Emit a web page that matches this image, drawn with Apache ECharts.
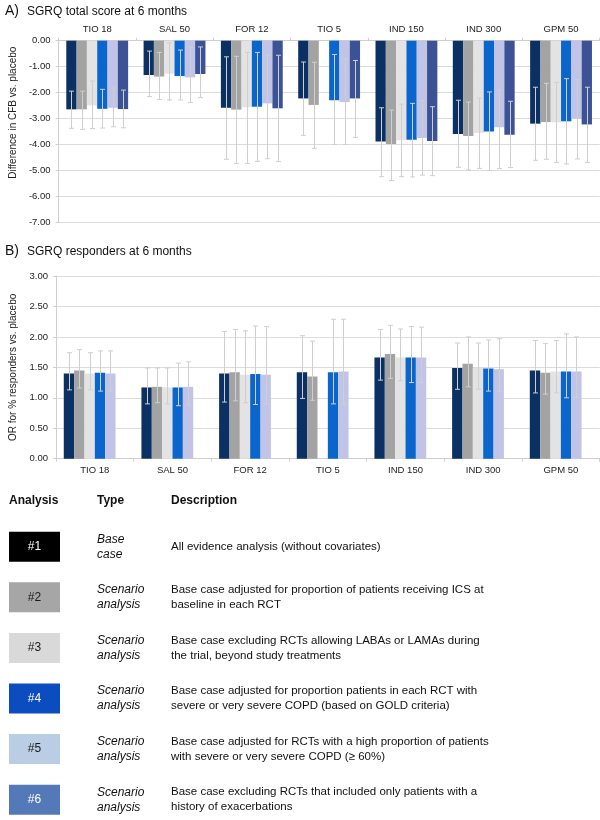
<!DOCTYPE html>
<html>
<head>
<meta charset="utf-8">
<script src="https://cdn.jsdelivr.net/npm/echarts@6/dist/echarts.min.js"></script>
<style>
html,body{margin:0;padding:0;background:#fff;}
#chart{width:600px;height:820px;}
</style>
</head>
<body>
<div id="chart"></div>
<script>
// ---------- DATA ----------
const categories = ['TIO 18', 'SAL 50', 'FOR 12', 'TIO 5', 'IND 150', 'IND 300', 'GPM 50'];
const analyses = ['#1', '#2', '#3', '#4', '#5', '#6'];
const yTicksA = [0, -1, -2, -3, -4, -5, -6, -7];
const yTicksB = [0, 0.5, 1, 1.5, 2, 2.5, 3];

// A) SGRQ total score at 6 months: difference in CFB vs placebo (mean, upper CI, lower CI)
const sgrqMean1 = [-2.64, -1.32, -2.58, -2.22, -3.88, -3.59, -3.19];
const sgrqHi1   = [-1.94, -0.40, -0.62, -0.82, -2.58, -2.29, -1.79];
const sgrqLo1   = [-3.37, -2.15, -4.56, -3.64, -5.23, -4.87, -4.60];
const sgrqMean2 = [-2.64, -1.38, -2.65, -2.47, -3.97, -3.67, -3.13];
const sgrqHi2   = [-1.94, -0.45, -0.60, -0.83, -2.67, -2.36, -1.64];
const sgrqLo2   = [-3.41, -2.26, -4.72, -4.14, -5.38, -4.97, -4.56];
const sgrqMean3 = [-2.49, -1.27, -2.56, null, -3.83, -3.55, -3.14];
const sgrqHi3   = [-1.55, -0.08, -0.45, null, -2.44, -2.21, -1.60];
const sgrqLo3   = [-3.38, -2.28, -4.72, null, -5.23, -4.91, -4.68];
const sgrqMean4 = [-2.62, -1.36, -2.54, -2.29, -3.81, -3.49, -3.10];
const sgrqHi4   = [-1.87, -0.36, -0.45, -0.53, -2.41, -1.97, -1.46];
const sgrqLo4   = [-3.36, -2.28, -4.64, -3.99, -5.24, -4.99, -4.74];
const sgrqMean5 = [-2.58, -1.41, -2.41, -2.36, -3.74, -3.33, -3.00];
const sgrqHi5   = [-1.82, -0.24, -0.55, -0.70, -2.30, -1.90, -1.50];
const sgrqLo5   = [-3.31, -2.38, -4.54, -3.99, -5.17, -4.92, -4.55];
const sgrqMean6 = [-2.63, -1.28, -2.60, -2.22, -3.86, -3.62, -3.22];
const sgrqHi6   = [-1.90, -0.24, -0.56, -0.76, -2.54, -2.33, -1.79];
const sgrqLo6   = [-3.35, -2.19, -4.65, -3.72, -5.19, -4.88, -4.68];

// B) SGRQ responders at 6 months: OR vs placebo (mean, upper CI, lower CI)
const orMean1 = [1.40, 1.17, 1.40, 1.42, 1.66, 1.49, 1.45];
const orHi1   = [1.74, 1.49, 2.09, 2.02, 2.12, 1.90, 1.94];
const orLo1   = [1.13, 0.90, 0.93, 0.99, 1.29, 1.14, 1.08];
const orMean2 = [1.45, 1.18, 1.42, 1.35, 1.72, 1.56, 1.41];
const orHi2   = [1.79, 1.49, 2.12, 1.93, 2.19, 2.00, 1.89];
const orLo2   = [1.16, 0.92, 0.95, 0.96, 1.32, 1.18, 1.06];
const orMean3 = [1.40, 1.17, 1.38, null, 1.66, 1.49, 1.43];
const orHi3   = [1.74, 1.49, 2.10, null, 2.13, 1.90, 1.94];
const orLo3   = [1.13, 0.90, 0.92, null, 1.28, 1.14, 1.08];
const orMean4 = [1.41, 1.17, 1.39, 1.42, 1.66, 1.48, 1.43];
const orHi4   = [1.77, 1.57, 2.18, 2.29, 2.17, 1.95, 2.05];
const orLo4   = [1.11, 0.87, 0.89, 0.90, 1.25, 1.11, 1.00];
const orMean5 = [1.40, 1.18, 1.38, 1.43, 1.66, 1.47, 1.43];
const orHi5   = [1.77, 1.59, 2.17, 2.29, 2.16, 1.97, 2.00];
const orLo5   = [1.11, 0.88, 0.90, 0.90, 1.25, 1.10, 1.00];
const orMean6 = [null, null, null, null, null, null, null];
const orHi6   = [null, null, null, null, null, null, null];
const orLo6   = [null, null, null, null, null, null, null];

// Legend table text
const typeTexts = ['Base\ncase', 'Scenario\nanalysis', 'Scenario\nanalysis', 'Scenario\nanalysis', 'Scenario\nanalysis', 'Scenario\nanalysis'];
const descriptions = [
  'All evidence analysis (without covariates)',
  'Base case adjusted for proportion of patients receiving ICS at\nbaseline in each RCT',
  'Base case excluding RCTs allowing LABAs or LAMAs during\nthe trial, beyond study treatments',
  'Base case adjusted for proportion patients in each RCT with\nsevere or very severe COPD (based on GOLD criteria)',
  'Base case adjusted for RCTs with a high proportion of patients\nwith severe or very severe COPD (\u2265 60%)',
  'Base case excluding RCTs that included only patients with a\nhistory of exacerbations'
];

// ---------- STYLE ----------
const FONT = '"Liberation Sans", Arial, Helvetica, sans-serif';
const barColors = ['#0a3064', '#a3a3a3', '#e3e3e3', '#0a66cc', '#c1c4e6', '#3b5296'];
const boxColors = ['#000000', '#a6a6a6', '#d9d9d9', '#0b4cbf', '#b9cde5', '#5479b8'];
const boxTextColors = ['#ffffff', '#1a1a1a', '#1a1a1a', '#ffffff', '#1a1a1a', '#ffffff'];
const errColor = '#cfcfcf';
const gridColor = '#dcdcdc';

const seriesA = [
  [sgrqMean1, sgrqHi1, sgrqLo1], [sgrqMean2, sgrqHi2, sgrqLo2], [sgrqMean3, sgrqHi3, sgrqLo3],
  [sgrqMean4, sgrqHi4, sgrqLo4], [sgrqMean5, sgrqHi5, sgrqLo5], [sgrqMean6, sgrqHi6, sgrqLo6]
];
const seriesB = [
  [orMean1, orHi1, orLo1], [orMean2, orHi2, orLo2], [orMean3, orHi3, orLo3],
  [orMean4, orHi4, orLo4], [orMean5, orHi5, orLo5], [orMean6, orHi6, orLo6]
];

const NSLOT = 6;
const CAT_GAP = 0.2;

function errRender(slot) {
  return function (params, api) {
    const idx = api.value(0);
    const hi = api.value(1), lo = api.value(2);
    if (hi == null || lo == null || isNaN(hi) || isNaN(lo)) return;
    const band = api.size([1, 0])[0];
    const bw = band * (1 - CAT_GAP) / NSLOT;
    const p1 = api.coord([idx, hi]);
    const p2 = api.coord([idx, lo]);
    const x = Math.round(p1[0] + (slot - (NSLOT - 1) / 2) * bw) + 0.5;
    const cap = 2.5;
    const st = { stroke: errColor, lineWidth: 1 };
    return {
      type: 'group',
      children: [
        { type: 'line', shape: { x1: x, y1: p1[1], x2: x, y2: p2[1] }, style: st },
        { type: 'line', shape: { x1: x - cap, y1: p1[1], x2: x + cap, y2: p1[1] }, style: st },
        { type: 'line', shape: { x1: x - cap, y1: p2[1], x2: x + cap, y2: p2[1] }, style: st }
      ]
    };
  };
}

const series = [];
function addSeries(sets, axisIdx) {
  sets.forEach((s, k) => {
    series.push({
      type: 'bar', name: analyses[k], xAxisIndex: axisIdx, yAxisIndex: axisIdx,
      data: s[0].map(v => (v == null ? '-' : v)),
      barGap: '0%', barCategoryGap: (CAT_GAP * 100) + '%',
      itemStyle: { color: barColors[k] },
      silent: true, z: 2
    });
  });
  sets.forEach((s, k) => {
    const d = [];
    s[0].forEach((v, i) => { if (s[1][i] != null && s[2][i] != null) d.push([i, s[1][i], s[2][i]]); });
    series.push({
      type: 'custom', xAxisIndex: axisIdx, yAxisIndex: axisIdx,
      renderItem: errRender(k), data: d,
      encode: { x: 0, y: [1, 2] }, silent: true, z: 5
    });
  });
}
addSeries(seriesA, 0);
addSeries(seriesB, 1);

const axisLabelStyle = { color: '#222', fontSize: 9.5, fontFamily: FONT };

// ---------- TABLE (graphic) ----------
const graphics = [];
const headerY = 501;
[['Analysis', 9], ['Type', 97], ['Description', 171]].forEach(h => {
  graphics.push({ type: 'text', x: h[1], y: headerY, style: {
    text: h[0], fill: '#111', font: 'bold 12px ' + FONT, textVerticalAlign: 'middle', verticalAlign: 'middle' } });
});
analyses.forEach((a, i) => {
  const top = 531.7 + i * 50.6;
  const cy = top + 15;
  graphics.push({ type: 'rect', shape: { x: 9, y: top, width: 51, height: 30 }, style: { fill: boxColors[i] } });
  graphics.push({ type: 'text', x: 34.5, y: cy, style: {
    text: a, fill: boxTextColors[i], font: '12px ' + FONT,
    textAlign: 'center', align: 'center', textVerticalAlign: 'middle', verticalAlign: 'middle' } });
  graphics.push({ type: 'text', x: 97, y: cy, style: {
    text: typeTexts[i], fill: '#111', font: 'italic 12px ' + FONT, lineHeight: 15,
    textVerticalAlign: 'middle', verticalAlign: 'middle' } });
  graphics.push({ type: 'text', x: 171, y: cy, style: {
    text: descriptions[i], fill: '#111', font: '11.5px ' + FONT, lineHeight: 15,
    textVerticalAlign: 'middle', verticalAlign: 'middle' } });
});

const option = {
  animation: false,
  backgroundColor: '#ffffff',
  textStyle: { fontFamily: FONT },
  title: [
    { text: 'A)', left: 0, top: -1, textStyle: { fontSize: 14, fontWeight: 'normal', color: '#111', fontFamily: FONT } },
    { text: 'SGRQ total score at 6 months', left: 22, top: 1, textStyle: { fontSize: 12, fontWeight: 'normal', color: '#111', fontFamily: FONT } },
    { text: 'B)', left: 0, top: 239, textStyle: { fontSize: 14, fontWeight: 'normal', color: '#111', fontFamily: FONT } },
    { text: 'SGRQ responders at 6 months', left: 22, top: 241, textStyle: { fontSize: 12, fontWeight: 'normal', color: '#111', fontFamily: FONT } }
  ],
  grid: [
    { left: 53.7, top: 40.7, width: 546, height: 182, containLabel: false },
    { left: 53.7, top: 276, width: 546, height: 182.7, containLabel: false }
  ],
  xAxis: [
    { type: 'category', gridIndex: 0, data: categories, position: 'top',
      axisLine: { lineStyle: { color: '#cfcfcf' } },
      axisTick: { show: true, length: 3, lineStyle: { color: '#cfcfcf' } },
      axisLabel: Object.assign({ margin: 6 }, axisLabelStyle) },
    { type: 'category', gridIndex: 1, data: categories, position: 'bottom',
      axisLine: { lineStyle: { color: '#cfcfcf' } },
      axisTick: { show: true, length: 3, lineStyle: { color: '#cfcfcf' } },
      axisLabel: Object.assign({ margin: 7 }, axisLabelStyle) }
  ],
  yAxis: [
    { type: 'value', gridIndex: 0, min: yTicksA[yTicksA.length - 1], max: yTicksA[0], interval: 1,
      name: 'Difference in CFB vs. placebo', nameLocation: 'middle', nameGap: 38, nameRotate: 90,
      nameTextStyle: { fontSize: 10, color: '#222', fontFamily: FONT, padding: [0, 0, 0, 38] },
      axisLine: { show: true, lineStyle: { color: '#cfcfcf' } },
      axisTick: { show: true, length: 3, lineStyle: { color: '#cfcfcf' } },
      splitLine: { lineStyle: { color: gridColor } },
      axisLabel: Object.assign({ margin: 8, formatter: v => v.toFixed(2) }, axisLabelStyle) },
    { type: 'value', gridIndex: 1, min: yTicksB[0], max: yTicksB[yTicksB.length - 1], interval: 0.5,
      name: 'OR for % responders vs. placebo', nameLocation: 'middle', nameGap: 38, nameRotate: 90,
      nameTextStyle: { fontSize: 10, color: '#222', fontFamily: FONT },
      axisLine: { show: true, lineStyle: { color: '#cfcfcf' } },
      axisTick: { show: true, length: 3, lineStyle: { color: '#cfcfcf' } },
      splitLine: { lineStyle: { color: gridColor } },
      axisLabel: Object.assign({ margin: 8, formatter: v => v.toFixed(2) }, axisLabelStyle) }
  ],
  series: series,
  graphic: { elements: graphics }
};

const chart = echarts.init(document.getElementById('chart'), null, { renderer: 'canvas' });
chart.setOption(option);
</script>
</body>
</html>
